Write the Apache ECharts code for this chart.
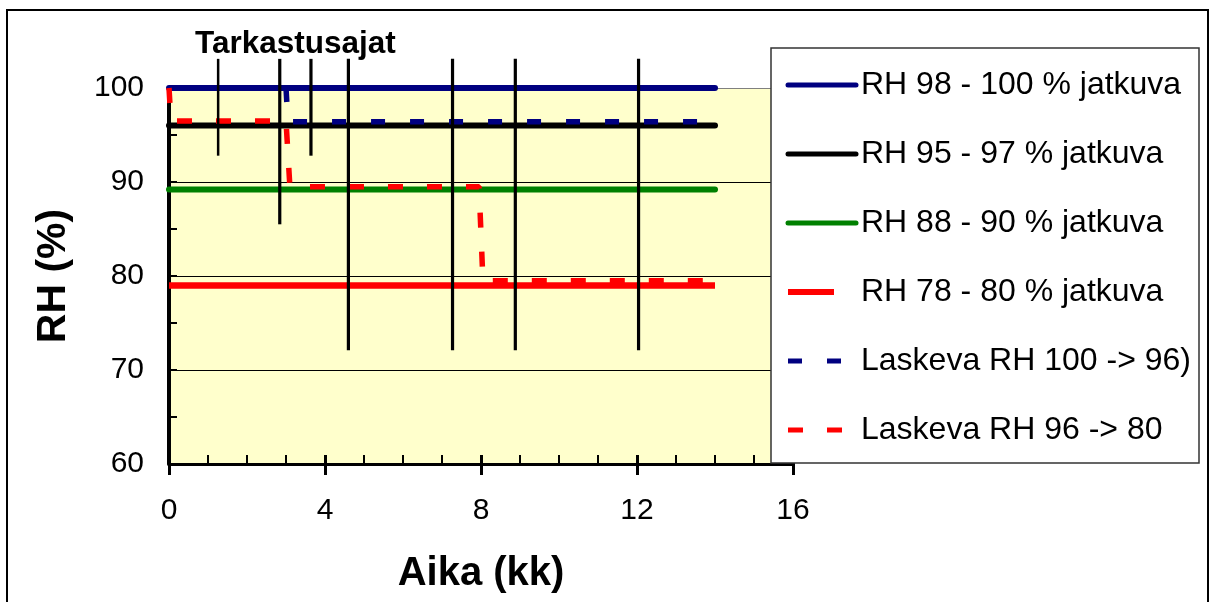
<!DOCTYPE html>
<html>
<head>
<meta charset="utf-8">
<script src="https://cdn.jsdelivr.net/npm/echarts@6/dist/echarts.min.js"></script>
<style>
html,body{margin:0;padding:0;background:#fff;}
#chart{width:1211px;height:602px;}
</style>
</head>
<body>
<div id="chart"></div>
<script>
// ---- data ----
const seriesNames = [
  'RH 98 - 100 % jatkuva',
  'RH 95 - 97 % jatkuva',
  'RH 88 - 90 % jatkuva',
  'RH 78 - 80 % jatkuva',
  'Laskeva RH 100 -> 96)',
  'Laskeva RH 96 -> 80'
];
const rh98 = [[0, 100], [14, 100]];
const rh95 = [[0, 96], [14, 96]];
const rh88 = [[0, 89.2], [14, 89.2]];
const rh78 = [[0, 79.0], [14, 79.0]];
const laskeva100 = [[0, 100], [3.0, 100], [3.05, 96.4], [14, 96.4]];
const laskeva96 = [[0, 100], [0.05, 96.5], [3.0, 96.5], [3.1, 89.5], [7.95, 89.5], [8.05, 79.5], [14, 79.5]];
const inspectTimes = [1.26, 2.84, 3.64, 4.6, 7.27, 8.88, 12.04];
const inspectBottoms = [92.8, 85.5, 92.8, 72.1, 72.1, 72.1, 72.1];
const inspectTop = 103.1;
const inspectLabel = 'Tarkastusajat';
const xTitle = 'Aika (kk)';
const yTitle = 'RH (%)';

const FONT = 'Liberation Sans, Arial, sans-serif';
const chart = echarts.init(document.getElementById('chart'));

const styles = [
  {color: '#000080', width: 6, type: 'solid', cap: 'round'},
  {color: '#000000', width: 6, type: 'solid', cap: 'round'},
  {color: '#008000', width: 6, type: 'solid', cap: 'round'},
  {color: '#FF0000', width: 6.5, type: 'solid', cap: 'butt'},
  {color: '#000080', width: 5.5, type: [14, 25], cap: 'butt'},
  {color: '#FF0000', width: 5.5, type: [15, 24], cap: 'butt'}
];
const datasets = [rh98, rh95, rh88, rh78, laskeva100, laskeva96];

const mainSeries = seriesNames.map((name, i) => ({
  name: name,
  type: 'line',
  data: datasets[i],
  symbol: 'none',
  clip: false,
  xAxisIndex: 0,
  yAxisIndex: 0,
  color: styles[i].color,
  lineStyle: {color: styles[i].color, width: styles[i].width, type: styles[i].type, cap: styles[i].cap},
  animation: false,
  z: 2
}));

const inspectSeries = inspectTimes.map((t, i) => ({
  name: 'insp' + i,
  type: 'line',
  data: [[t, inspectTop], [t, inspectBottoms[i]]],
  symbol: 'none',
  clip: false,
  xAxisIndex: 0,
  yAxisIndex: 0,
  lineStyle: {color: '#000', width: i === 0 ? 2.5 : 3.2},
  animation: false,
  z: 3
}));

const legendData = seriesNames.map((name, i) => {
  const item = {name: name};
  if (i === 3) item.lineStyle = {type: [46, 40], width: 6, cap: 'butt'};
  return item;
});

chart.setOption({
  backgroundColor: '#fff',
  animation: false,
  title: {
    text: inspectLabel,
    left: 195, top: 28, padding: 0,
    textStyle: {fontFamily: FONT, fontSize: 31.5, fontWeight: 'bold', color: '#000'}
  },
  grid: {
    left: 169, top: 88, width: 624, height: 376,
    show: true, backgroundColor: '#FFFFCC', borderWidth: 0
  },
  legend: {
    data: legendData,
    orient: 'vertical',
    left: 785, top: 65, padding: 0,
    itemWidth: 68, itemHeight: 14, itemGap: 29,
    itemStyle: {opacity: 0},
    lineStyle: {width: 5},
    textStyle: {fontFamily: FONT, fontSize: 32, color: '#000', lineHeight: 40},
    z: 10,
    selectedMode: false
  },
  xAxis: [{
    type: 'value', min: 0, max: 16, interval: 4,
    position: 'bottom',
    name: xTitle, nameLocation: 'middle', nameGap: 90,
    nameTextStyle: {fontFamily: FONT, fontSize: 40, fontWeight: 'bold', color: '#000'},
    axisLine: {show: true, onZero: false, lineStyle: {color: '#000', width: 3}},
    axisTick: {show: true, inside: true, length: 9, lineStyle: {color: '#000', width: 3}},
    minorTick: {show: true, splitNumber: 4, length: 9, lineStyle: {color: '#000', width: 2}},
    axisLabel: {fontFamily: FONT, fontSize: 30, color: '#000', margin: 32},
    splitLine: {show: false}
  }, {
    type: 'value', min: 0, max: 16, interval: 4,
    position: 'bottom', offset: 0,
    axisLine: {show: false},
    axisTick: {show: true, inside: false, length: 11, lineStyle: {color: '#000', width: 3}},
    axisLabel: {show: false},
    splitLine: {show: false}
  }],
  yAxis: {
    type: 'value', min: 60, max: 100, interval: 10,
    name: yTitle, nameLocation: 'middle', nameGap: 95,
    nameTextStyle: {fontFamily: FONT, fontSize: 41, fontWeight: 'bold', color: '#000'},
    axisLine: {show: true, onZero: false, lineStyle: {color: '#000', width: 4}},
    axisTick: {show: true, inside: true, length: 8, lineStyle: {color: '#000', width: 2}},
    minorTick: {show: true, splitNumber: 2, length: 8, lineStyle: {color: '#000', width: 2}},
    axisLabel: {fontFamily: FONT, fontSize: 30, color: '#000', margin: 25},
    splitLine: {show: true, lineStyle: {color: ['#000', '#000', '#000', '#000', '#808080'], width: 1}}
  },
  graphic: [
    {type: 'rect', z: 0, silent: true, shape: {x: 7, y: 10, width: 1201, height: 600},
     style: {fill: 'none', stroke: '#000', lineWidth: 2}},
    {type: 'rect', z: 5, silent: true, shape: {x: 771, y: 48, width: 428, height: 415},
     style: {fill: '#fff', stroke: '#333', lineWidth: 1.5}}
  ],
  series: mainSeries.concat(inspectSeries)
});
</script>
</body>
</html>
